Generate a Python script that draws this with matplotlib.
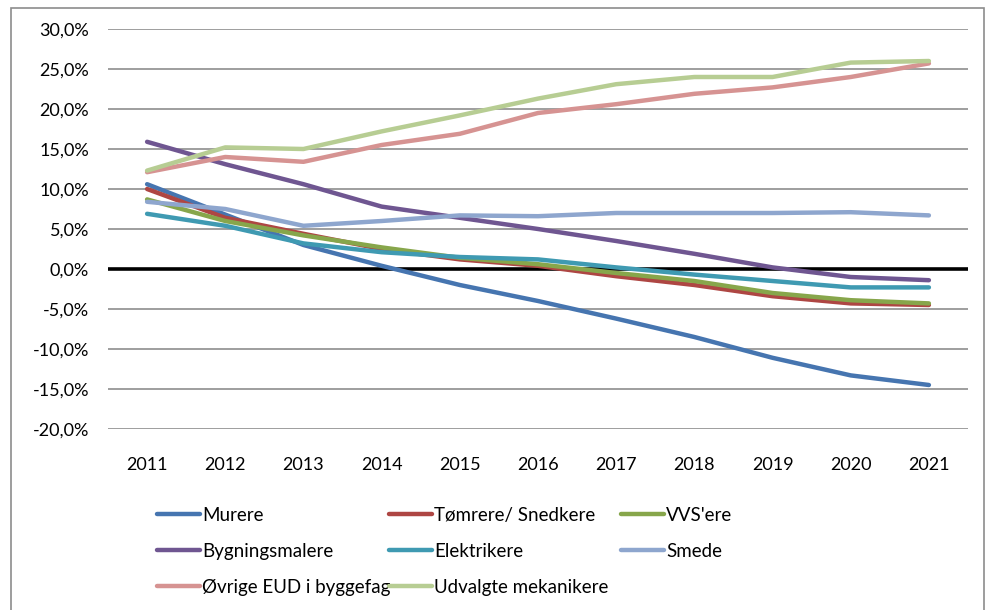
import matplotlib
matplotlib.use("Agg")
import matplotlib.pyplot as plt
from matplotlib.lines import Line2D
from matplotlib.patches import Rectangle
from matplotlib.ticker import FuncFormatter

years = ["2011", "2012", "2013", "2014", "2015", "2016", "2017", "2018", "2019", "2020", "2021"]

murere = [10.6, 6.8, 3.0, 0.4, -2.0, -4.0, -6.2, -8.5, -11.1, -13.3, -14.5]
tomrere = [10.0, 6.4, 4.4, 2.5, 1.2, 0.4, -0.9, -2.0, -3.4, -4.3, -4.5]
vvs = [8.7, 6.0, 4.2, 2.7, 1.4, 0.6, -0.5, -1.5, -3.0, -3.9, -4.3]
bygningsmalere = [15.9, 13.1, 10.6, 7.8, 6.4, 5.0, 3.5, 1.9, 0.2, -1.0, -1.4]
elektrikere = [6.9, 5.4, 3.2, 2.1, 1.5, 1.2, 0.2, -0.7, -1.5, -2.3, -2.3]
smede = [8.4, 7.5, 5.4, 6.0, 6.7, 6.6, 7.0, 7.0, 7.0, 7.1, 6.7]
ovrige = [12.1, 14.0, 13.4, 15.5, 16.9, 19.5, 20.6, 21.9, 22.7, 24.0, 25.7]
udvalgte = [12.3, 15.2, 15.0, 17.2, 19.2, 21.3, 23.1, 24.0, 24.0, 25.8, 26.0]

names = ["Murere", "Tømrere/ Snedkere", "VVS'ere", "Bygningsmalere", "Elektrikere",
         "Smede", "Øvrige EUD i byggefag", "Udvalgte mekanikere"]
series = [murere, tomrere, vvs, bygningsmalere, elektrikere, smede, ovrige, udvalgte]
colors = ["#4675B0", "#AE4643", "#87A64B", "#6F5691", "#3F9AB2", "#8EA6CE", "#D69392", "#B7CD93"]

plt.rcParams["font.family"] = ["Lato", "DejaVu Sans"]

W, H = 986, 610
fig = plt.figure(figsize=(W / 100, H / 100), dpi=100)
ax = fig.add_axes([108 / W, 1 - 429 / H, (968 - 108) / W, 400 / H])

# outer border
fig.patches.append(Rectangle((11 / W, -0.05), (984 - 11) / W, 1 - 8 / H + 0.05,
                             transform=fig.transFigure, fill=False,
                             edgecolor="#8C8C8C", linewidth=1.2))

x = list(range(len(years)))
ax.set_ylim(-20, 30)
ax.set_xlim(-0.5, len(years) - 0.5)
ax.set_yticks([-20, -15, -10, -5, 0, 5, 10, 15, 20, 25, 30])
ax.yaxis.set_major_formatter(FuncFormatter(lambda v, p: f"{v:.1f}%".replace(".", ",")))
ax.grid(axis="y", color="#9E9E9E", linewidth=1.4)
ax.set_axisbelow(True)
for s in ax.spines.values():
    s.set_visible(False)
ax.set_xticks(x)
ax.set_xticklabels(years)
ax.tick_params(axis="both", length=0, labelsize=13, colors="black")
ax.tick_params(axis="y", pad=13.5)
ax.tick_params(axis="x", pad=20)

ax.axhline(0, color="black", linewidth=2.6, zorder=2)

handles = []
for vals, c, n in zip(series, colors, names):
    (ln,) = ax.plot(x, vals, color=c, linewidth=3.2, solid_capstyle="round",
                    solid_joinstyle="round", label=n, zorder=3)
    handles.append(ln)

# legend as three columns
cols = [[0, 3, 6], [1, 4, 7], [2, 5]]
col_x = [157, 389, 621]
for ci, idxs in enumerate(cols):
    hs = [Line2D([0], [0], color=colors[i], linewidth=3.2, solid_capstyle="round") for i in idxs]
    fig.legend(hs, [names[i] for i in idxs], loc="upper left",
               bbox_to_anchor=(col_x[ci] / W, 1 - 507 / H),
               frameon=False, fontsize=13.5, handlelength=2.3, handletextpad=0.12,
               labelspacing=1.0, borderaxespad=0, borderpad=0)

fig.savefig("out.png", dpi=100)
